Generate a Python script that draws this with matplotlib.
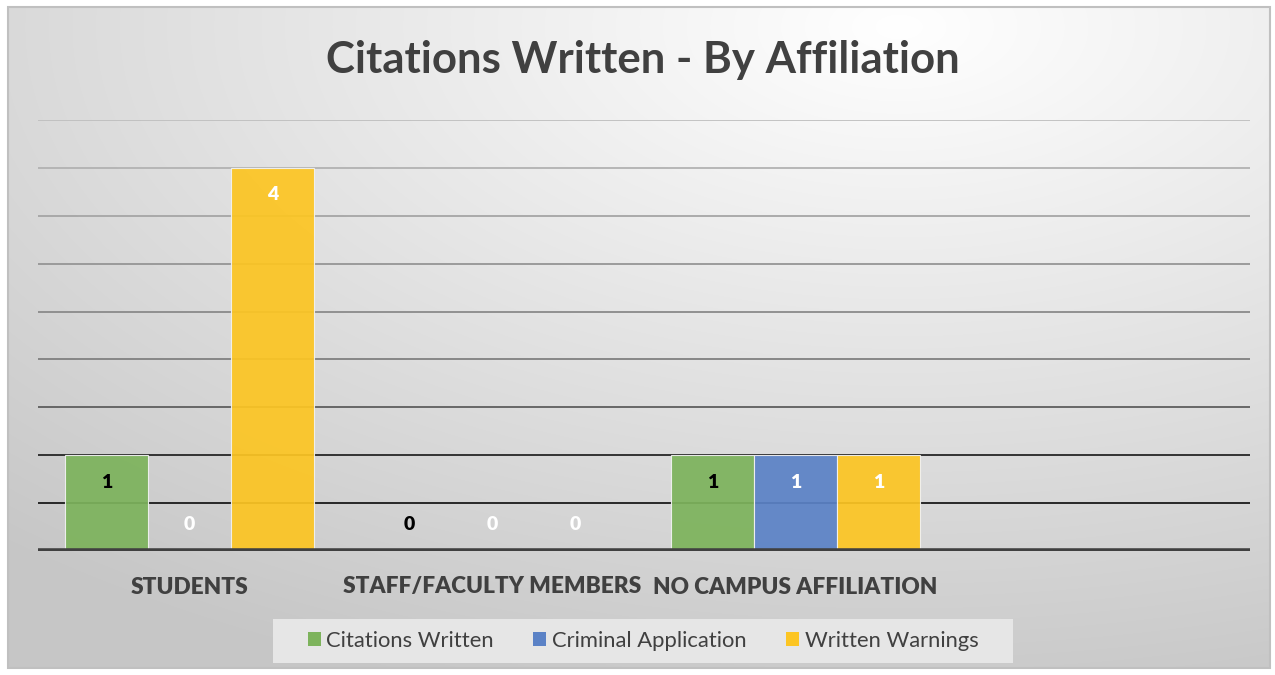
import numpy as np
import matplotlib.pyplot as plt
from matplotlib.patches import Rectangle

categories = ["STUDENTS", "STAFF/FACULTY MEMBERS", "NO CAMPUS AFFILIATION", ""]
series_names = ["Citations Written", "Criminal Application", "Written Warnings"]
citations = [1, 0, 1, None]
criminal = [0, 0, 1, None]
warnings = [4, 0, 1, None]
colors = ["#7db35c", "#5b82c6", "#fcc523"]
label_colors = ["black", "white", "white"]

plt.rcParams['font.family'] = ['Lato', 'DejaVu Sans']

fig = plt.figure(figsize=(12.75, 6.75), dpi=100)

# background: white outside, gray gradient panel with border
bg = fig.add_axes([0, 0, 1, 1], zorder=-10)
bg.set_xlim(0, 1275)
bg.set_ylim(675, 0)
bg.axis("off")
yy, xx = np.mgrid[0:675, 0:1275]
d = np.sqrt(((xx - 900) / 1275.0) ** 2 + ((yy - 20) / 675.0) ** 2)
shade = 1.0 - 0.22 * np.clip(d / 1.05, 0, 1)
img = np.dstack([shade, shade, shade])
bg.imshow(img, extent=(8, 1270, 668, 7), aspect="auto")
bg.add_patch(Rectangle((8, 7), 1262, 661, fill=False, edgecolor="#c0c0c0", lw=1.5))
# legend box
bg.add_patch(Rectangle((273, 619), 740, 44, facecolor="#e6e6e6", edgecolor="none"))

ax = fig.add_axes([38 / 1275, 1 - 551 / 675, 1212 / 1275, 431 / 675])
ax.set_facecolor("none")
ax.set_xlim(-0.5, 3.5)
ax.set_ylim(0, 4.5)

grid_levels = [0.5, 1.0, 1.5, 2.0, 2.5, 3.0, 3.5, 4.0, 4.5]
grid_colors = ["#1a1a1a", "#262626", "#5e5e5e", "#808080", "#8a8a8a", "#959595", "#a5a5a5", "#b2b2b2", "#bfbfbf"]
for lvl, c in zip(grid_levels, grid_colors):
    ax.axhline(lvl, color=c, lw=1.3, zorder=1)
ax.axhline(0, color="#404040", lw=4, zorder=4)

x = np.arange(len(categories))
w = 0.274
for i, (vals, col, lc) in enumerate(zip([citations, criminal, warnings], colors, label_colors)):
    for j, v in enumerate(vals):
        if v is None:
            continue
        xp = x[j] + (i - 1) * w
        ax.bar(xp, v, width=w, color=col, alpha=0.93, edgecolor="#f2f2f2", lw=0.8, zorder=3)
        off = -27 if v > 0 else 26
        ax.annotate(str(v), (xp, v), xytext=(0, off), textcoords="offset pixels",
                    ha="center", va="center", fontsize=14, fontweight="heavy",
                    color=lc, zorder=5)

for sp in ax.spines.values():
    sp.set_visible(False)
ax.set_yticks([])
ax.set_xticks([])
for j, cat in enumerate(categories):
    ax.annotate(cat, (x[j], 0), xytext=(0, -36), textcoords="offset pixels",
                ha="center", va="center", fontsize=16.3, fontweight="heavy", color="#404040")

fig.text(643 / 1275, 1 - 60 / 675, "Citations Written - By Affiliation", ha="center", va="center",
         fontsize=31.5, fontweight="bold", color="#404040")

handles = [Rectangle((0, 0), 1, 1, facecolor=c) for c in colors]
fig.legend(handles, series_names, loc="center", bbox_to_anchor=(643 / 1275, 1 - 641 / 675),
           ncol=3, frameon=False, fontsize=15.8, handlelength=0.6, handleheight=0.6,
           handletextpad=0.25, columnspacing=1.8, labelcolor="#404040")

fig.savefig("out.png", dpi=100)
